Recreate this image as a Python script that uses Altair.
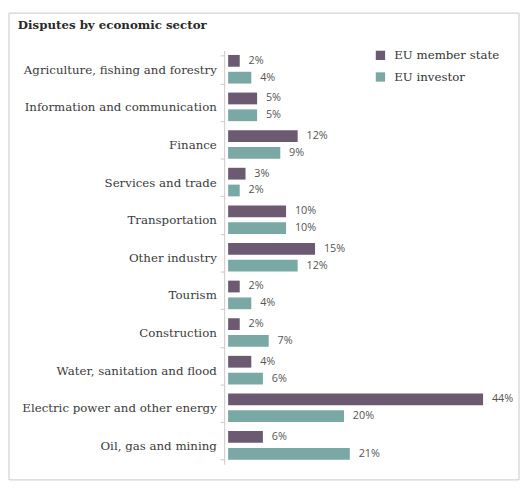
import altair as alt
import pandas as pd

sectors = [
    "Agriculture, fishing and forestry",
    "Information and communication",
    "Finance",
    "Services and trade",
    "Transportation",
    "Other industry",
    "Tourism",
    "Construction",
    "Water, sanitation and flood",
    "Electric power and other energy",
    "Oil, gas and mining",
]
series = ["EU member state", "EU investor"]
member_state = [2, 5, 12, 3, 10, 15, 2, 2, 4, 44, 6]
investor = [4, 5, 9, 2, 10, 12, 4, 7, 6, 20, 21]
colors = ["#6c5a72", "#79a8a5"]

rows = []
for s, m, i in zip(sectors, member_state, investor):
    rows.append({"sector": s, "series": series[0], "value": m})
    rows.append({"sector": s, "series": series[1], "value": i})
df = pd.DataFrame(rows)
df["label"] = df["value"].astype(str) + "%"

serif = "DejaVu Serif"

y_enc = alt.Y(
    "sector:N",
    sort=sectors,
    title=None,
    scale=alt.Scale(paddingInner=0.24, paddingOuter=0.12),
    axis=alt.Axis(
        offset=4,
        tickBand="extent",
        tickSize=4,
        tickColor="#c8c8c8",
        domainColor="#c8c8c8",
        labelFont=serif,
        labelFontSize=12,
        labelColor="#3a3a3a",
        labelPadding=4,
        labelLimit=300,
    ),
)
yoff = alt.YOffset("series:N", sort=series, scale=alt.Scale(paddingInner=0.3, paddingOuter=0))
x_enc = alt.X("value:Q", scale=alt.Scale(domain=[0, 48]), axis=None, title=None)

bars = alt.Chart(df).mark_bar().encode(
    x=x_enc,
    y=y_enc,
    yOffset=yoff,
    color=alt.Color(
        "series:N",
        sort=series,
        scale=alt.Scale(domain=series, range=colors),
        legend=alt.Legend(
            title=None,
            orient="none",
            legendX=149,
            legendY=-1,
            symbolType="square",
            symbolSize=90,
            symbolStrokeWidth=0,
            labelFont=serif,
            labelFontSize=12,
            labelColor="#333333",
            labelOffset=8,
            rowPadding=10,
        ),
    ),
)

labels = alt.Chart(df).mark_text(
    align="left", baseline="middle", dx=9, font="Open Sans", fontSize=11, color="#555555"
).encode(
    x=x_enc,
    y=alt.Y("sector:N", sort=sectors),
    yOffset=yoff,
    text="label:N",
)

frame = alt.Chart(pd.DataFrame({"a": [0]})).mark_rect(
    fill=None, stroke="#c8c8c8", strokeWidth=1
).encode(
    x=alt.value(-223), x2=alt.value(296), y=alt.value(-38), y2=alt.value(437)
)

chart = (
    alt.layer(frame, bars, labels)
    .properties(
        width=283,
        height=421,
        autosize=alt.AutoSizeParams(type="none"),
        padding={"left": 224, "top": 39, "right": 14, "bottom": 18},
        title=alt.Title(
            "Disputes by economic sector",
            anchor="start",
            frame="group",
            dx=-214,
            font=serif,
            fontSize=12,
            fontWeight="bold",
            color="#2a2a2a",
            offset=-20,
        ),
    )
    .configure_view(stroke=None)
)

chart.save("out.html", embed_options={"renderer": "svg", "actions": False})
